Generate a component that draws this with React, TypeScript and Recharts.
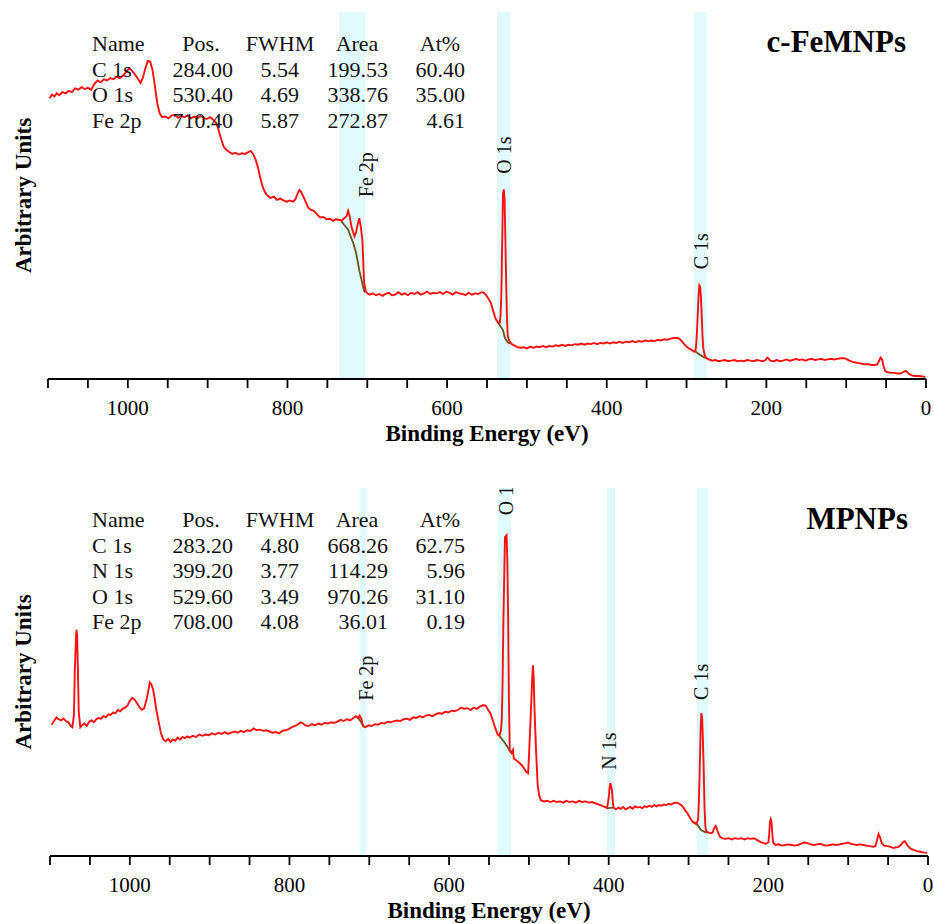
import React from 'react';
import { LineChart, Line, XAxis, YAxis, ReferenceArea, ReferenceDot } from 'recharts';

const FONT = "'Liberation Serif', 'Times New Roman', Times, serif";

// ---------- DATA ----------
const xTicks = Array.from({ length: 23 }, (_, i) => i * 50);
const yTicks = Array.from({ length: 31 }, (_, i) => i * 2);

const tableHeader = ['Name', 'Pos.', 'FWHM', 'Area', 'At%'];
const topTable = [
  ['C 1s', '284.00', '5.54', '199.53', '60.40'],
  ['O 1s', '530.40', '4.69', '338.76', '35.00'],
  ['Fe 2p', '710.40', '5.87', '272.87', '4.61'],
];
const bottomTable = [
  ['C 1s', '283.20', '4.80', '668.26', '62.75'],
  ['N 1s', '399.20', '3.77', '114.29', '5.96'],
  ['O 1s', '529.60', '3.49', '970.26', '31.10'],
  ['Fe 2p', '708.00', '4.08', '36.01', '0.19'],
];

const topBands = [[702.5, 735], [521, 537.5], [275, 291]];
const bottomBands = [[704, 712], [522, 539], [392, 402], [275, 290]];

const topPeakLabels = [
  { text: 'Fe 2p', ev: 701, v: 33.4 },
  { text: 'O 1s', ev: 529, v: 36.6 },
  { text: 'C 1s', ev: 282.5, v: 20.9 },
];
const bottomPeakLabels = [
  { text: 'Fe 2p', ev: 704, v: 29.0 },
  { text: 'O 1s', ev: 529, v: 58.6 },
  { text: 'N 1s', ev: 400, v: 17.1 },
  { text: 'C 1s', ev: 284, v: 28.4 },
];

const topSpectrum = [
[1098,45.9],[1095,46.5],[1092,46.2],[1089,46.7],[1086,46.4],[1082,46.9],[1078,46.7],[1074,47.1],[1070,46.9],[1066,47.5],[1062,47.3],[1058,47.7],[1054,47.4],[1050,47.6],[1046,47.3],[1042,48.2],[1038,48.8],[1034,48.5],[1030,49.0],[1026,48.8],[1022,49.2],[1018,49.0],[1014,49.4],[1010,49.2],[1006,49.6],[1002,50.2],[999,50.7],[996,50.6],[993,50.1],[990,49.6],[987,49.0],[984,48.4],[981,49.3],[978,50.8],[975,52.0],[972,51.9],[969,50.5],[966,47.8],[963,45.0],[960,43.4],[957,42.8],[953,42.9],[949,42.6],[945,43.1],[941,43.2],[937,42.7],[933,43.0],[929,42.8],[925,43.1],[921,42.6],[917,42.9],[913,42.6],[909,43.0],[905,42.7],[901,42.5],[897,42.8],[893,42.4],[889,41.8],[886,40.6],[883,39.2],[880,38.0],[877,37.5],[873,37.1],[869,36.8],[865,37.0],[861,36.7],[857,36.9],[853,36.8],[849,37.1],[846,37.3],[843,36.8],[840,35.9],[837,34.6],[834,32.9],[831,31.4],[828,30.5],[825,30.0],[821,29.6],[817,29.8],[813,29.3],[809,29.5],[805,29.2],[801,29.0],[797,29.2],[793,29.0],[790,29.4],[787,30.4],[785,30.9],[783,30.6],[780,29.8],[777,28.9],[774,28.0],[771,27.7],[767,27.5],[763,26.9],[759,26.4],[755,26.5],[751,26.1],[747,26.2],[743,25.9],[739,26.1],[735,26.0],[732,25.9],[729,26.3],[726,26.6],[724,27.5],[722,26.6],[720,25.0],[718,24.1],[716,23.3],[714,24.0],[712,25.3],[710,26.3],[708,24.8],[706,22.5],[705,19.0],[704,15.8],[702,14.4],[700,14.0],[697,13.8],[693,14.0],[689,13.7],[685,13.9],[681,13.6],[677,13.9],[673,14.1],[669,13.7],[665,13.8],[661,14.2],[657,13.8],[653,14.0],[649,13.7],[645,14.1],[641,13.9],[637,14.2],[633,13.8],[629,14.0],[625,14.3],[621,13.9],[617,14.1],[613,14.0],[609,14.2],[605,13.9],[601,14.3],[597,14.1],[593,13.8],[589,14.2],[585,14.0],[581,13.9],[577,13.7],[573,14.1],[569,13.8],[565,14.0],[561,13.9],[557,14.2],[554,14.1],[551,13.7],[548,13.1],[545,12.4],[542,11.0],[539,9.8],[536,9.2],[534,9.2],[533,10.5],[532,14.0],[531,22.0],[530,30.2],[529,31.0],[528,29.5],[527,23.0],[526,16.0],[525,10.0],[524,7.0],[522,6.2],[519,5.7],[516,5.5],[512,5.2],[508,5.1],[504,5.2],[500,5.0],[496,5.3],[492,5.1],[488,5.3],[484,5.2],[480,5.4],[476,5.2],[472,5.4],[468,5.3],[464,5.5],[460,5.4],[456,5.6],[452,5.4],[448,5.6],[444,5.5],[440,5.7],[436,5.6],[432,5.8],[428,5.6],[424,5.8],[420,5.7],[416,5.9],[412,5.7],[408,5.9],[404,5.8],[400,6.0],[396,5.8],[392,6.0],[388,5.9],[384,6.1],[380,5.9],[376,6.1],[372,6.0],[368,6.2],[364,6.0],[360,6.2],[356,6.1],[352,6.3],[348,6.2],[344,6.3],[340,6.2],[336,6.4],[332,6.3],[328,6.5],[324,6.4],[320,6.6],[316,6.7],[312,6.7],[309,6.6],[306,6.2],[303,5.7],[300,5.3],[297,5.0],[294,4.8],[291,4.5],[289,4.5],[288,5.5],[287,7.5],[286,10.5],[285,13.5],[284,15.3],[283,15.1],[282,13.5],[281,10.5],[280,7.0],[279,5.0],[277,3.8],[275,3.4],[272,3.2],[268,3.0],[264,3.1],[260,2.9],[256,3.0],[252,3.1],[248,2.9],[244,3.0],[240,3.1],[236,2.9],[232,3.0],[228,2.9],[224,3.1],[220,3.0],[216,2.9],[212,3.1],[208,3.0],[204,2.9],[201,3.1],[199,3.5],[197,3.3],[195,3.0],[191,2.9],[187,3.1],[183,2.9],[179,3.0],[175,3.2],[171,3.0],[167,3.1],[163,3.3],[159,3.1],[155,3.2],[151,3.0],[147,3.2],[143,3.3],[139,3.1],[135,3.2],[131,3.3],[127,3.1],[123,3.2],[119,3.3],[115,3.2],[111,3.3],[107,3.4],[103,3.4],[100,3.3],[96,3.0],[92,2.8],[88,2.7],[84,2.6],[80,2.5],[76,2.4],[72,2.4],[68,2.3],[64,2.3],[61,2.4],[59,2.9],[57,3.5],[55,3.2],[53,2.0],[51,1.3],[48,1.1],[44,1.0],[40,1.0],[36,0.9],[32,0.9],[29,1.1],[26,1.3],[24,1.2],[21,0.8],[18,0.6],[14,0.5],[9,0.5],[4,0.4],[1,0.3],
];

const bottomSpectrum = [
[1098,21.4],[1095,22.0],[1092,22.6],[1089,22.3],[1086,22.1],[1083,22.4],[1080,22.0],[1077,21.8],[1074,21.2],[1072,21.0],[1070,23.0],[1069,30.0],[1067,36.9],[1066,36.0],[1065,30.0],[1064,23.5],[1062,21.0],[1060,21.3],[1057,21.6],[1054,21.2],[1051,21.9],[1048,22.1],[1045,21.8],[1042,22.3],[1039,22.5],[1036,22.4],[1033,22.8],[1030,22.6],[1027,23.1],[1024,23.0],[1021,23.4],[1018,23.3],[1015,23.8],[1012,23.6],[1009,24.0],[1006,24.2],[1003,24.5],[1000,25.3],[997,25.8],[994,25.5],[991,24.9],[988,24.3],[985,23.8],[982,24.1],[979,25.5],[977,26.8],[975,28.3],[973,28.0],[971,27.2],[969,25.8],[967,24.0],[964,22.0],[961,20.0],[958,19.0],[955,18.7],[952,19.1],[949,18.6],[946,19.0],[943,18.8],[940,19.3],[937,19.0],[934,19.4],[931,19.2],[928,19.5],[925,19.3],[921,19.6],[917,19.4],[913,19.8],[909,19.6],[905,19.8],[901,19.7],[897,20.0],[893,19.8],[889,20.1],[885,19.9],[881,20.2],[877,19.9],[873,20.1],[869,20.3],[865,20.1],[861,20.4],[857,20.2],[853,20.5],[849,20.4],[845,20.8],[841,20.5],[837,20.6],[833,20.4],[829,20.5],[825,20.3],[821,20.1],[817,20.2],[813,20.0],[809,20.4],[805,20.5],[801,20.7],[797,21.0],[793,21.2],[789,21.5],[786,21.8],[783,21.6],[780,21.3],[776,21.2],[772,21.5],[768,21.3],[764,21.6],[760,21.4],[756,21.7],[752,21.6],[748,21.8],[744,21.7],[740,21.9],[736,22.2],[732,22.0],[728,22.3],[724,22.1],[720,22.5],[717,22.8],[714,22.5],[712,22.9],[710,22.4],[708,21.2],[705,21.0],[701,21.3],[697,21.2],[693,21.5],[689,21.4],[685,21.7],[681,21.6],[677,21.9],[673,21.8],[669,22.0],[665,22.1],[661,22.0],[657,22.3],[653,22.4],[649,22.2],[645,22.6],[641,22.5],[637,22.8],[633,22.6],[629,22.9],[625,23.0],[621,22.8],[617,23.1],[613,23.3],[609,23.2],[605,23.5],[601,23.4],[597,23.7],[593,23.6],[589,23.8],[585,24.2],[581,24.0],[577,24.1],[573,23.8],[569,24.2],[565,24.0],[561,24.4],[557,24.6],[554,24.5],[551,23.8],[548,23.2],[545,22.0],[542,20.8],[539,19.8],[537,19.6],[535,20.5],[534,22.2],[533,28.0],[532,38.0],[531,45.0],[530,52.0],[528,52.3],[527,48.0],[526,38.5],[525,25.0],[524,17.3],[522,16.8],[520,17.3],[519,15.9],[516,15.6],[512,15.2],[509,14.8],[506,14.3],[504,13.8],[501,13.5],[500,16.0],[498,22.0],[496,28.5],[495,31.1],[494,29.0],[493,24.0],[491,17.0],[489,11.5],[487,9.8],[485,9.1],[481,8.9],[477,9.0],[473,8.8],[469,9.0],[465,8.8],[461,8.9],[457,8.7],[453,9.0],[449,8.8],[445,8.9],[441,8.7],[437,9.0],[433,8.8],[429,8.9],[425,8.7],[421,8.8],[417,8.6],[413,8.4],[409,8.2],[405,8.0],[402,7.8],[400,9.5],[399,11.0],[398,11.9],[396,10.8],[395,9.0],[394,7.9],[391,7.6],[388,7.9],[385,7.7],[382,8.0],[379,7.6],[376,7.8],[373,8.0],[370,7.7],[367,8.1],[364,7.9],[361,8.0],[358,7.8],[355,8.1],[352,8.0],[349,8.2],[346,8.0],[343,8.3],[340,8.1],[337,8.3],[334,8.2],[331,8.4],[328,8.3],[325,8.5],[322,8.4],[319,8.6],[316,8.7],[313,8.6],[310,8.4],[307,8.0],[304,7.4],[301,6.9],[298,6.2],[295,5.6],[292,5.4],[290,5.2],[288,6.0],[287,9.0],[286,14.0],[285,20.0],[284,23.3],[283,22.5],[282,19.0],[281,14.0],[280,8.0],[279,5.0],[278,4.0],[276,3.9],[273,3.7],[270,3.8],[268,4.5],[266,4.9],[264,4.2],[261,3.2],[258,2.9],[254,2.8],[250,2.9],[246,2.7],[242,2.9],[238,2.8],[234,2.9],[230,2.7],[226,2.9],[222,2.8],[218,2.9],[214,2.6],[210,2.3],[206,2.1],[203,2.0],[200,2.2],[199,3.5],[198,5.5],[197,6.0],[196,5.5],[195,3.5],[194,2.2],[191,1.8],[187,1.9],[183,1.7],[179,1.8],[175,1.9],[171,1.8],[167,1.7],[163,1.8],[159,2.0],[155,2.2],[151,2.1],[147,1.9],[143,1.8],[139,1.9],[135,2.0],[131,1.8],[127,1.7],[123,1.8],[119,1.9],[115,1.8],[111,1.9],[107,2.0],[103,2.1],[100,2.2],[97,2.0],[93,1.9],[89,1.8],[85,1.9],[81,1.8],[77,1.7],[73,1.6],[69,1.5],[66,1.6],[64,2.5],[62,3.6],[60,3.0],[58,2.1],[55,1.7],[51,1.6],[47,1.5],[43,1.3],[40,1.4],[37,1.5],[34,1.8],[31,2.3],[29,2.4],[27,2.0],[25,1.6],[22,1.2],[18,1.0],[14,0.8],[10,0.7],[6,0.6],[1,0.5],
];

const topBackgrounds = [
  [[732.5, 25.8], [724, 24.4], [717.5, 22.2], [714, 20.6], [710, 17.8], [705, 14.9], [703, 14.1]],
  [[536, 9.2], [530, 8.0], [527.5, 6.7], [524, 6.0], [521, 5.8]],
  [[289, 4.5], [282.5, 3.9], [276, 3.4]],
];
const bottomBackgrounds = [
  [[714, 22.6], [706, 21.0]],
  [[537, 19.6], [531, 18.6], [526, 17.6], [523, 16.9]],
  [[401, 7.8], [394, 7.9]],
  [[294, 5.5], [289, 5.1], [284, 4.2], [277.5, 3.8]],
];

// ---------- HELPERS ----------
const toPts = (arr: number[][]) => arr.map(([ev, v]) => ({ ev, v }));

const YTick = (props: any) => {
  const { y, payload, side, axisX } = props;
  const major = Math.round(payload.value) % 10 === 0;
  const len = major ? 8 : 4;
  const dir = side === 'left' ? 1 : -1;
  return <line x1={axisX} x2={axisX + dir * len} y1={y} y2={y} stroke="#000" strokeWidth={1.6} />;
};

const XTick = (props: any) => {
  const { x, y, payload } = props;
  if (payload.value % 200 !== 0) return <g />;
  return (
    <text x={x} y={y + 25} textAnchor="middle" fontFamily={FONT} fontSize={21} fill="#000">
      {payload.value}
    </text>
  );
};

const PeakLabel = (props: any) => {
  const vb = props.viewBox || {};
  const cx = (vb.x || 0) + (vb.width || 0) / 2;
  const cy = (vb.y || 0) + (vb.height || 0) / 2;
  return (
    <g clipPath={props.clip}>
      <text x={cx} y={cy} transform={`rotate(-90 ${cx} ${cy})`} textAnchor="middle" dominantBaseline="central"
        fontFamily={FONT} fontSize={20} fill="#111">{props.text}</text>
    </g>
  );
};

const COLS = { name: 92, posH: 201, posR: 233, fwhmH: 280, fwhmR: 299, areaH: 357, areaR: 388, atH: 440, atR: 465 };

const Annot = (props: any) => {
  const { rows, title, tableTop, rowGap, titleY, plotLeft, plotRight, plotTop, plotBottom } = props;
  const ts = { fontFamily: FONT, fontSize: 22, fill: '#111' } as any;
  const hdrX = [COLS.name, COLS.posH, COLS.fwhmH, COLS.areaH, COLS.atH];
  const valX = [COLS.name, COLS.posR, COLS.fwhmR, COLS.areaR, COLS.atR];
  const midY = (plotTop + plotBottom) / 2;
  return (
    <g>
      {tableHeader.map((h, i) => (
        <text key={'h' + i} x={hdrX[i]} y={tableTop} textAnchor={i === 0 ? 'start' : 'middle'} {...ts}>{h}</text>
      ))}
      {rows.map((r: string[], ri: number) =>
        r.map((c, ci) => (
          <text key={ri + '-' + ci} x={valX[ci]} y={tableTop + (ri + 1) * rowGap} textAnchor={ci === 0 ? 'start' : 'end'} {...ts}>{c}</text>
        ))
      )}
      <text x={plotRight - 20} y={titleY} textAnchor="end" fontFamily={FONT} fontSize={31} fontWeight="bold" fill="#000">{title}</text>
      <text x={23} y={midY} transform={`rotate(-90 23 ${midY})`} textAnchor="middle" dominantBaseline="central"
        fontFamily={FONT} fontSize={23} fontWeight="bold" fill="#000">Arbitrary Units</text>
      <text x={(plotLeft + plotRight) / 2} y={plotBottom + 62} textAnchor="middle"
        fontFamily={FONT} fontSize={23} fontWeight="bold" fill="#000">Binding Energy (eV)</text>
    </g>
  );
};

type PanelProps = {
  spectrum: number[][];
  backgrounds: number[][][];
  bands: number[][];
  labels: { text: string; ev: number; v: number }[];
  rows: string[][];
  title: string;
  width: number;
  height: number;
  margin: { top: number; right: number; bottom: number; left: number };
  xAxisHeight: number;
  tableTop: number;
  titleY: number;
  clipId: string;
};

const Panel = (p: PanelProps) => {
  const plotLeft = p.margin.left;
  const plotRight = p.width - p.margin.right;
  const plotTop = p.margin.top;
  const plotBottom = p.height - p.margin.bottom - p.xAxisHeight;
  return (
    <div style={{ position: 'relative', width: p.width, height: p.height }}>
      <svg width={0} height={0} style={{ position: 'absolute' }}>
        <defs>
          <clipPath id={p.clipId}>
            <rect x={plotLeft} y={plotTop} width={plotRight - plotLeft} height={plotBottom - plotTop} />
          </clipPath>
        </defs>
      </svg>
      <LineChart width={p.width} height={p.height} margin={p.margin}>
        <XAxis xAxisId="b" dataKey="ev" type="number" domain={[0, 1100]} reversed allowDataOverflow
          ticks={xTicks} interval={0} tickSize={9} tickMargin={2}
          tickLine={{ stroke: '#000', strokeWidth: 1.8 }} axisLine={{ stroke: '#000', strokeWidth: 2 }}
          tick={<XTick />} height={p.xAxisHeight} />
        <XAxis xAxisId="t" orientation="top" type="number" domain={[0, 1100]} reversed allowDataOverflow
          height={0} tick={false} tickLine={false} axisLine={{ stroke: '#000', strokeWidth: 2 }} />
        <YAxis yAxisId="l" type="number" domain={[0, 60]} allowDataOverflow width={0} ticks={yTicks} interval={0}
          tickLine={false} axisLine={{ stroke: '#000', strokeWidth: 2 }}
          tick={<YTick side="left" axisX={plotLeft} />} />
        <YAxis yAxisId="r" orientation="right" type="number" domain={[0, 60]} allowDataOverflow width={0} ticks={yTicks} interval={0}
          tickLine={false} axisLine={{ stroke: '#000', strokeWidth: 2 }}
          tick={<YTick side="right" axisX={plotRight} />} />
        {p.bands.map((b, i) => (
          <ReferenceArea key={'band' + i} xAxisId="b" yAxisId="l" x1={b[0]} x2={b[1]} y1={0} y2={60}
            fill="#e0fafd" fillOpacity={1} stroke="none" ifOverflow="hidden" />
        ))}
        {p.backgrounds.map((bg, i) => (
          <Line key={'bg' + i} xAxisId="b" yAxisId="l" data={toPts(bg)} dataKey="v" type="linear"
            stroke="#6b5418" strokeWidth={1.8} dot={false} activeDot={false} isAnimationActive={false} />
        ))}
        <Line xAxisId="b" yAxisId="l" data={toPts(p.spectrum)} dataKey="v" type="linear"
          stroke="#ff1010" strokeWidth={1.9} dot={false} activeDot={false} isAnimationActive={false} />
        {p.labels.map((l, i) => (
          <ReferenceDot key={'lab' + i} xAxisId="b" yAxisId="l" x={l.ev} y={l.v} r={0} fill="none" stroke="none"
            ifOverflow="visible" label={<PeakLabel text={l.text} clip={`url(#${p.clipId})`} />} />
        ))}
      </LineChart>
      <svg width={p.width} height={p.height} style={{ position: 'absolute', left: 0, top: 0, pointerEvents: 'none' }}>
        <Annot rows={p.rows} title={p.title} tableTop={p.tableTop} rowGap={25.5}
          titleY={p.titleY} plotLeft={plotLeft} plotRight={plotRight} plotTop={plotTop} plotBottom={plotBottom} />
      </svg>
    </div>
  );
};

export default function App() {
  return (
    <div style={{ position: 'absolute', left: 0, top: 0, width: 934, height: 924, background: '#fff' }}>
      <Panel spectrum={topSpectrum} backgrounds={topBackgrounds} bands={topBands} labels={topPeakLabels}
        rows={topTable} title="c-FeMNPs" width={934} height={462}
        margin={{ top: 12, right: 8, bottom: 0, left: 48 }} xAxisHeight={83}
        tableTop={51} titleY={52} clipId="clipTop" />
      <Panel spectrum={bottomSpectrum} backgrounds={bottomBackgrounds} bands={bottomBands} labels={bottomPeakLabels}
        rows={bottomTable} title="MPNPs" width={934} height={462}
        margin={{ top: 26, right: 6, bottom: 0, left: 50 }} xAxisHeight={68}
        tableTop={65} titleY={67} clipId="clipBottom" />
    </div>
  );
}
